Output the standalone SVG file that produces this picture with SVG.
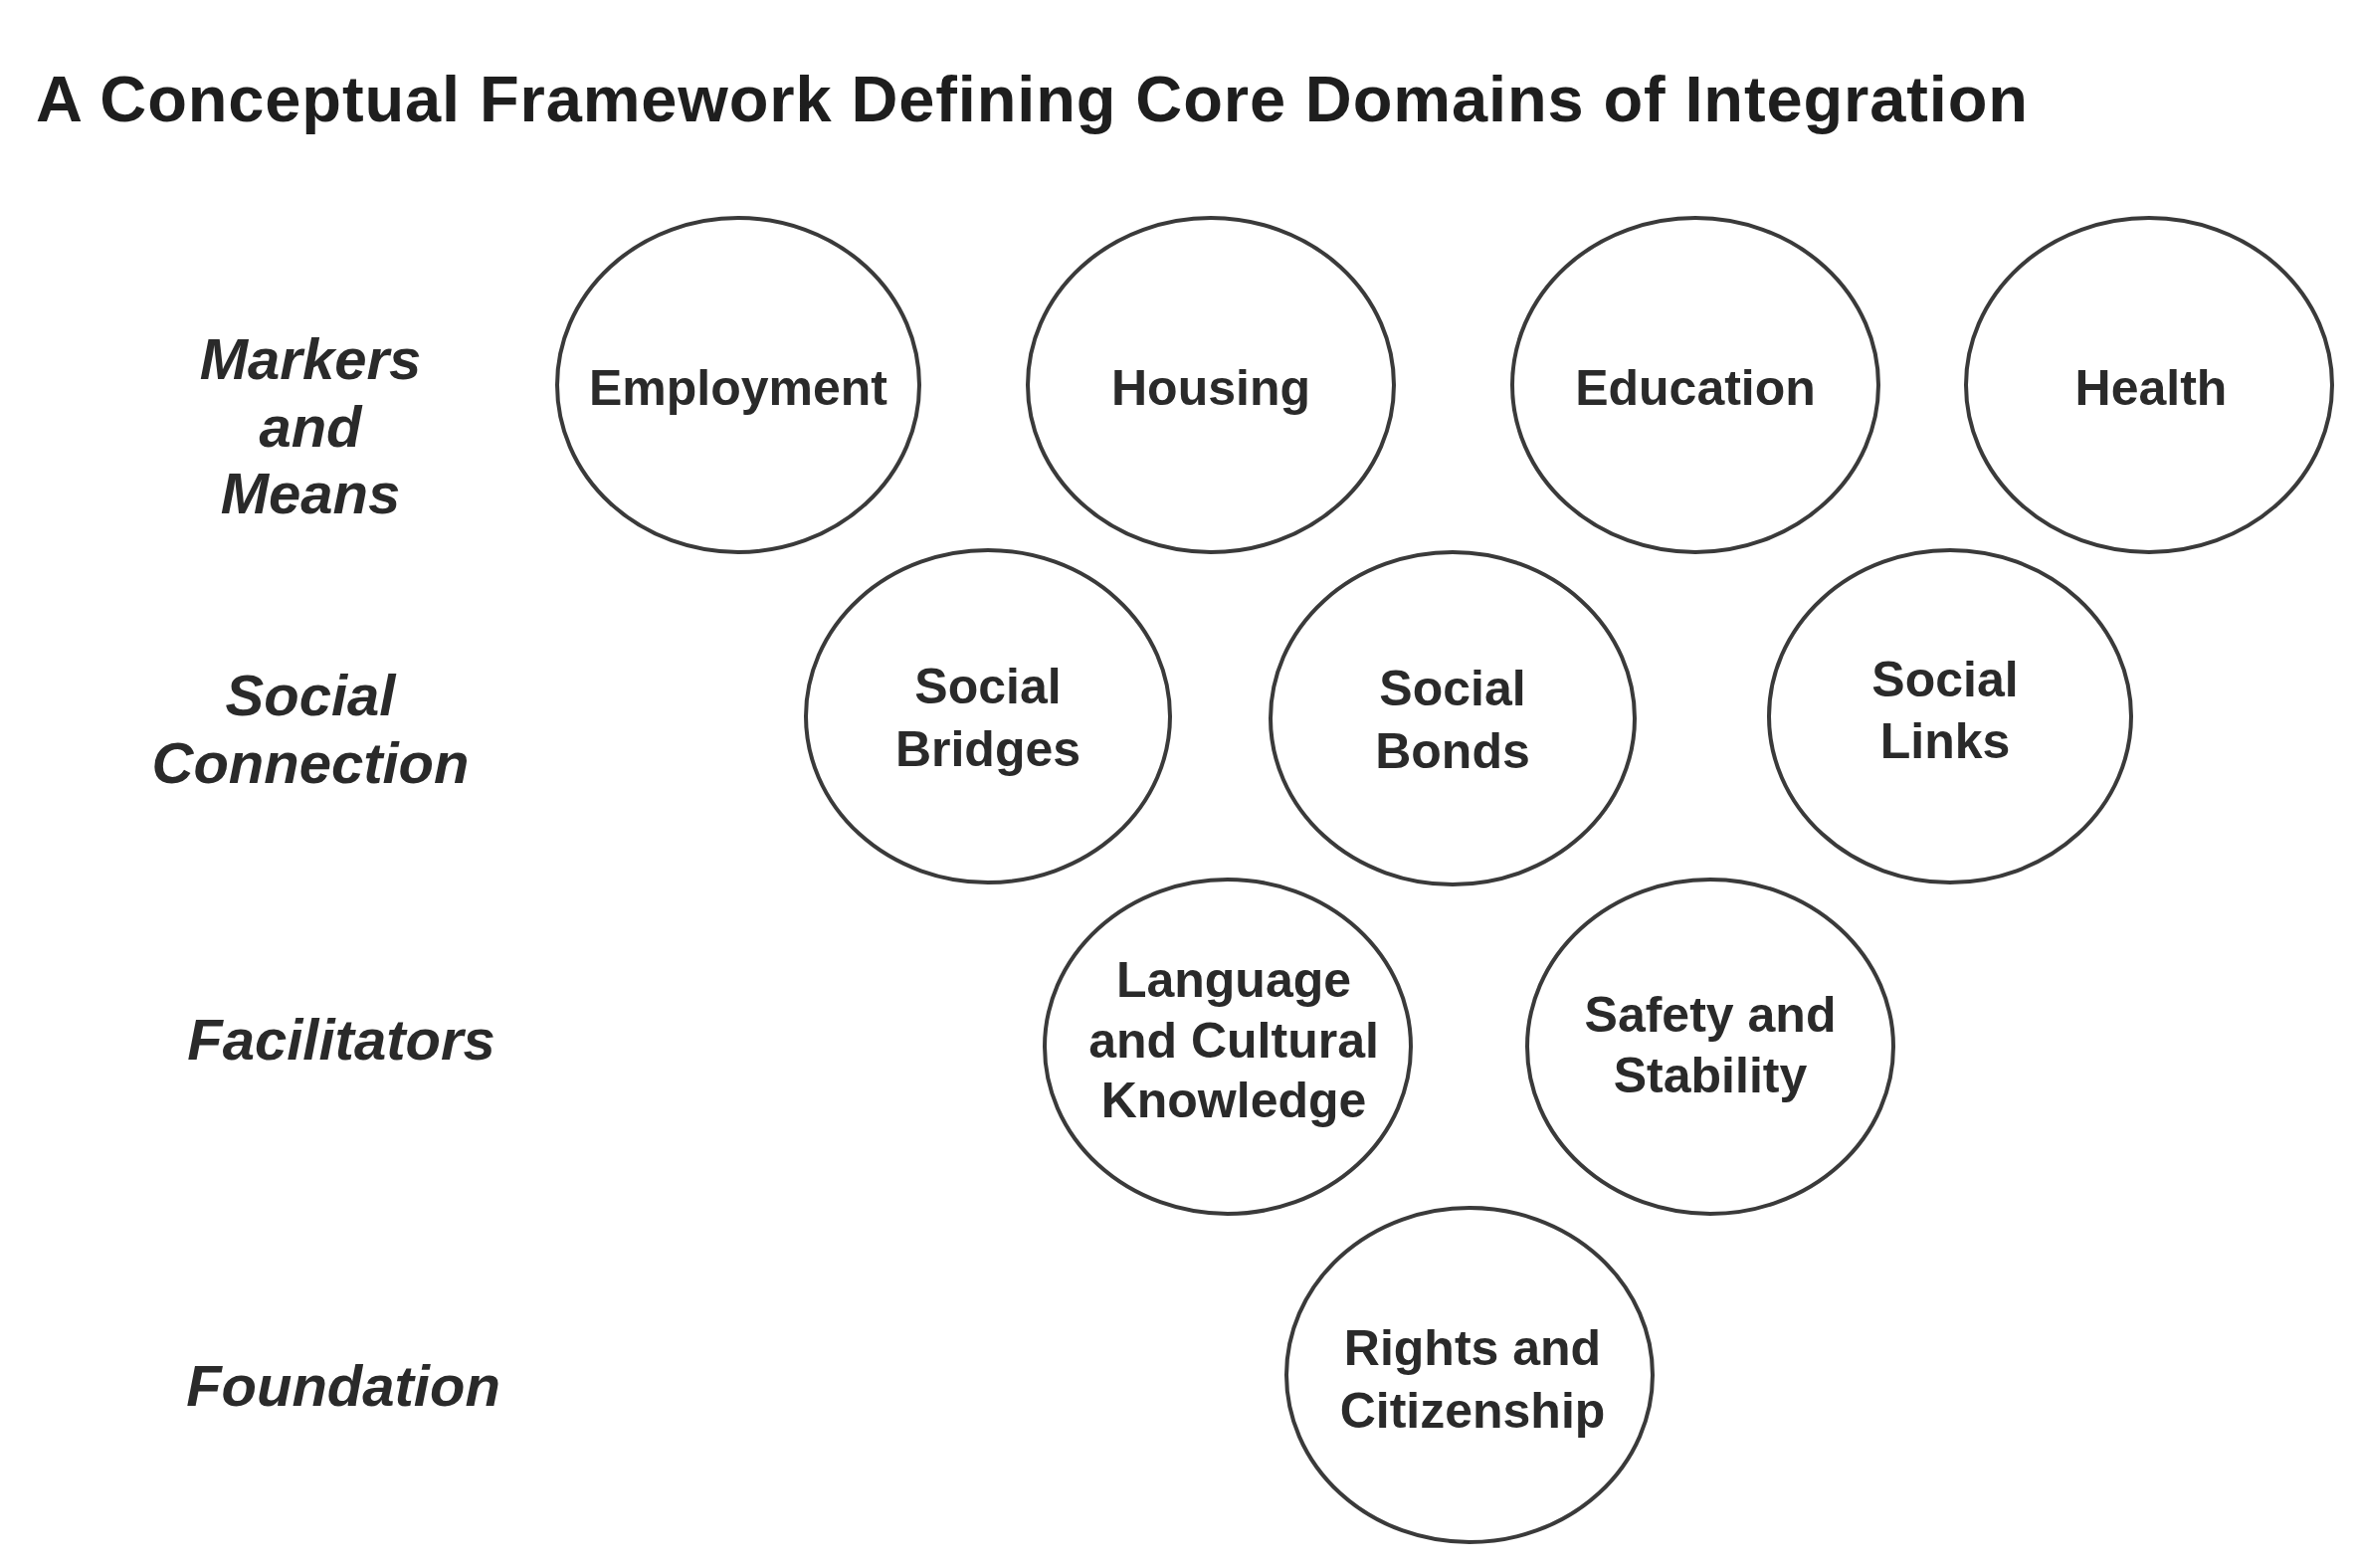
<svg xmlns="http://www.w3.org/2000/svg" width="2368" height="1576" viewBox="0 0 2368 1576">
<style>
.bg{fill:#ffffff}
.node ellipse{fill:#ffffff;stroke:#3a3a3a;stroke-width:4}
.lbl{font-family:"Liberation Sans",Arial,sans-serif;font-weight:bold;font-size:50px;fill:#2a2a2a;text-anchor:middle}
.tier{font-family:"Liberation Sans",Arial,sans-serif;font-weight:bold;font-style:italic;font-size:58px;fill:#2a2a2a;text-anchor:middle}
.title{font-family:"Liberation Sans",Arial,sans-serif;font-weight:bold;font-size:65px;fill:#1e1e1e}
</style>
<rect class="bg" x="0" y="0" width="2368" height="1576"/>
<text class="title" x="36" y="122" textLength="2002" lengthAdjust="spacing">A Conceptual Framework Defining Core Domains of Integration</text>

<g id="tier-labels">
  <text class="tier" x="312" y="381">Markers</text>
  <text class="tier" x="312" y="449">and</text>
  <text class="tier" x="312" y="516">Means</text>
  <text class="tier" x="312" y="719">Social</text>
  <text class="tier" x="312" y="787">Connection</text>
  <text class="tier" x="343" y="1065">Facilitators</text>
  <text class="tier" x="345" y="1413">Foundation</text>
</g>

<g id="employment" class="node">
  <ellipse cx="742" cy="387" rx="182" ry="168"/>
  <text class="lbl" x="742" y="407">Employment</text>
</g>
<g id="housing" class="node">
  <ellipse cx="1217" cy="387" rx="184" ry="168"/>
  <text class="lbl" x="1217" y="407">Housing</text>
</g>
<g id="education" class="node">
  <ellipse cx="1704" cy="387" rx="184" ry="168"/>
  <text class="lbl" x="1704" y="407">Education</text>
</g>
<g id="health" class="node">
  <ellipse cx="2160" cy="387" rx="184" ry="168"/>
  <text class="lbl" x="2162" y="407">Health</text>
</g>

<g id="social-bridges" class="node">
  <ellipse cx="993" cy="720" rx="183" ry="167"/>
  <text class="lbl" x="993" y="707">Social</text>
  <text class="lbl" x="993" y="770">Bridges</text>
</g>
<g id="social-bonds" class="node">
  <ellipse cx="1460" cy="722" rx="183" ry="167"/>
  <text class="lbl" x="1460" y="709">Social</text>
  <text class="lbl" x="1460" y="772">Bonds</text>
</g>
<g id="social-links" class="node">
  <ellipse cx="1960" cy="720" rx="182" ry="167"/>
  <text class="lbl" x="1955" y="700">Social</text>
  <text class="lbl" x="1955" y="762">Links</text>
</g>

<g id="language" class="node">
  <ellipse cx="1234" cy="1052" rx="184" ry="168"/>
  <text class="lbl" x="1240" y="1002">Language</text>
  <text class="lbl" x="1240" y="1063">and Cultural</text>
  <text class="lbl" x="1240" y="1123">Knowledge</text>
</g>
<g id="safety" class="node">
  <ellipse cx="1719" cy="1052" rx="184" ry="168"/>
  <text class="lbl" x="1719" y="1037">Safety and</text>
  <text class="lbl" x="1719" y="1098">Stability</text>
</g>

<g id="rights" class="node">
  <ellipse cx="1477" cy="1382" rx="184" ry="168"/>
  <text class="lbl" x="1480" y="1372">Rights and</text>
  <text class="lbl" x="1480" y="1435">Citizenship</text>
</g>
</svg>
